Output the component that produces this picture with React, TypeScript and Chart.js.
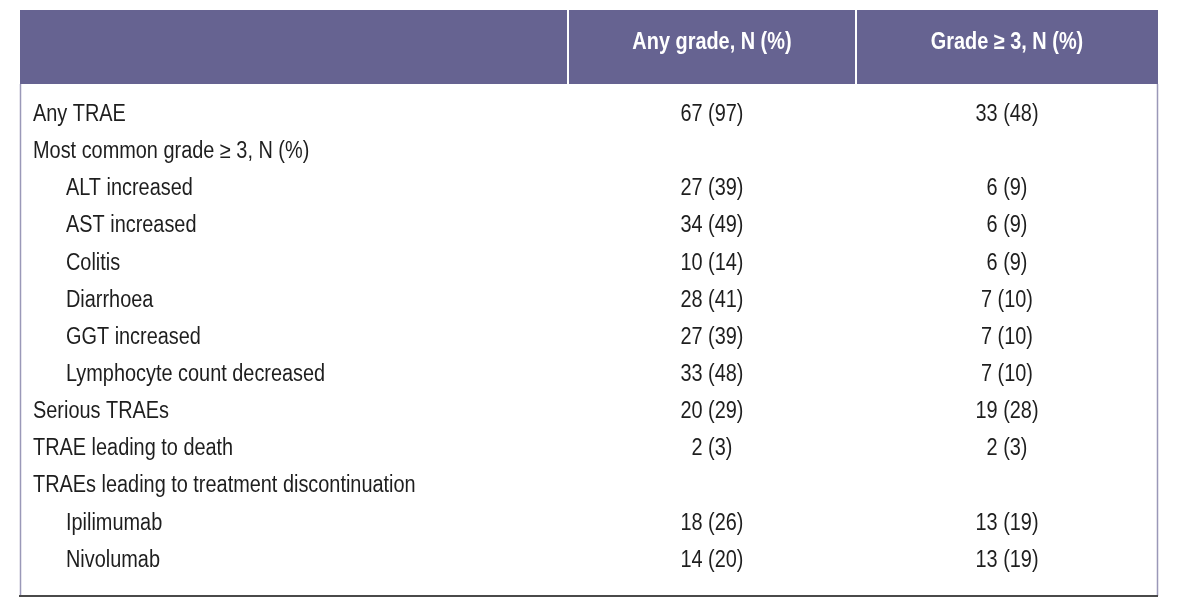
import React, { useEffect, useRef } from "react";
import { Chart, registerables } from "chart.js";

Chart.register(...registerables);

// ---- data ----
const ROW_LABELS = [
  "Any TRAE",
  "Most common grade ≥ 3, N (%)",
  "ALT increased",
  "AST increased",
  "Colitis",
  "Diarrhoea",
  "GGT increased",
  "Lymphocyte count decreased",
  "Serious TRAEs",
  "TRAE leading to death",
  "TRAEs leading to treatment discontinuation",
  "Ipilimumab",
  "Nivolumab",
];
const ROW_INDENT = [0, 0, 1, 1, 1, 1, 1, 1, 0, 0, 0, 1, 1];
const COLUMN_HEADERS = ["Any grade, N (%)", "Grade ≥ 3, N (%)"];
const ANY_GRADE_N = [67, null, 27, 34, 10, 28, 27, 33, 20, 2, null, 18, 14];
const ANY_GRADE_PCT = [97, null, 39, 49, 14, 41, 39, 48, 29, 3, null, 26, 20];
const GRADE3_N = [33, null, 6, 6, 6, 7, 7, 7, 19, 2, null, 13, 13];
const GRADE3_PCT = [48, null, 9, 9, 9, 10, 10, 10, 28, 3, null, 19, 19];

// ---- layout / style ----
const W = 1182;
const H = 612;
const COL_EDGES = [0, 0.4815, 0.7346, 1]; // fractions of table width
const HEADER_TOP = 10;
const HEADER_BOTTOM = 84;
const BOTTOM_LINE_Y = 596;
const HEADER_COLOR = "#666391";
const TEXT_COLOR = "#1e1e1e";
const FONT_FAMILY = '"Liberation Sans", Arial, sans-serif';
const FONT_SIZE = 23;
const CONDENSE = 0.865;

const fmt = (n: number | null, p: number | null) => (n === null ? "" : `${n} (${p})`);

function drawText(ctx: CanvasRenderingContext2D, txt: string, x: number, y: number) {
  ctx.save();
  ctx.translate(x, y);
  ctx.scale(CONDENSE, 1);
  ctx.fillText(txt, 0, 0);
  ctx.restore();
}

const tablePlugin = {
  id: "tablePlugin",
  beforeDraw(chart: any) {
    const { ctx, chartArea } = chart;
    const xs = chart.scales.x;
    const left = chartArea.left;
    const right = chartArea.right;
    ctx.save();
    ctx.fillStyle = "#ffffff";
    ctx.fillRect(0, 0, chart.width, chart.height);
    // header band
    ctx.fillStyle = HEADER_COLOR;
    ctx.fillRect(left, HEADER_TOP, right - left, HEADER_BOTTOM - HEADER_TOP);
    // header dividers
    ctx.strokeStyle = "#ffffff";
    ctx.lineWidth = 2;
    for (let i = 1; i < COL_EDGES.length - 1; i++) {
      const x = Math.round(xs.getPixelForValue(COL_EDGES[i]));
      ctx.beginPath();
      ctx.moveTo(x, HEADER_TOP);
      ctx.lineTo(x, HEADER_BOTTOM);
      ctx.stroke();
    }
    // header text
    ctx.fillStyle = "#ffffff";
    ctx.font = `bold ${FONT_SIZE}px ${FONT_FAMILY}`;
    ctx.textAlign = "center";
    ctx.textBaseline = "middle";
    COLUMN_HEADERS.forEach((h, i) => {
      const c = (COL_EDGES[i + 1] + COL_EDGES[i + 2]) / 2;
      drawText(ctx, h, xs.getPixelForValue(c), (HEADER_TOP + HEADER_BOTTOM) / 2 - 4);
    });
    // side borders
    ctx.strokeStyle = "#9a98b8";
    ctx.lineWidth = 1.5;
    ctx.beginPath();
    ctx.moveTo(left + 0.5, HEADER_BOTTOM);
    ctx.lineTo(left + 0.5, BOTTOM_LINE_Y);
    ctx.moveTo(right - 0.5, HEADER_BOTTOM);
    ctx.lineTo(right - 0.5, BOTTOM_LINE_Y);
    ctx.stroke();
    // bottom line
    ctx.strokeStyle = "#4a4a4a";
    ctx.lineWidth = 2;
    ctx.beginPath();
    ctx.moveTo(left - 1, BOTTOM_LINE_Y);
    ctx.lineTo(right, BOTTOM_LINE_Y);
    ctx.stroke();
    ctx.restore();
  },
  afterDatasetsDraw(chart: any) {
    const { ctx, chartArea } = chart;
    const ys = chart.scales.y;
    ctx.save();
    ctx.fillStyle = TEXT_COLOR;
    ctx.font = `${FONT_SIZE}px ${FONT_FAMILY}`;
    ctx.textBaseline = "middle";
    // row labels
    ctx.textAlign = "left";
    ROW_LABELS.forEach((lab, i) => {
      const x = chartArea.left + 13 + ROW_INDENT[i] * 33;
      drawText(ctx, lab, x, ys.getPixelForValue(i));
    });
    // cell values
    ctx.textAlign = "center";
    chart.data.datasets.forEach((ds: any, di: number) => {
      const meta = chart.getDatasetMeta(di);
      meta.data.forEach((el: any, i: number) => {
        const txt = ds.texts[i];
        if (txt) drawText(ctx, txt, el.x, el.y);
      });
    });
    ctx.restore();
  },
};

export default function App() {
  const ref = useRef<HTMLCanvasElement | null>(null);
  useEffect(() => {
    if (!ref.current) return;
    const c1 = (COL_EDGES[1] + COL_EDGES[2]) / 2;
    const c2 = (COL_EDGES[2] + COL_EDGES[3]) / 2;
    const chart = new Chart(ref.current, {
      type: "scatter",
      data: {
        datasets: [
          {
            label: COLUMN_HEADERS[0],
            data: ROW_LABELS.map((_, i) => ({ x: c1, y: i })),
            texts: ANY_GRADE_N.map((n, i) => fmt(n, ANY_GRADE_PCT[i])),
            pointRadius: 0,
          } as any,
          {
            label: COLUMN_HEADERS[1],
            data: ROW_LABELS.map((_, i) => ({ x: c2, y: i })),
            texts: GRADE3_N.map((n, i) => fmt(n, GRADE3_PCT[i])),
            pointRadius: 0,
          } as any,
        ],
      },
      options: {
        responsive: false,
        animation: false,
        layout: { padding: { left: 20, right: 24, top: 96, bottom: 33 } },
        plugins: { legend: { display: false }, tooltip: { enabled: false } },
        scales: {
          x: { type: "linear", min: 0, max: 1, display: false },
          y: {
            type: "category",
            labels: ROW_LABELS,
            offset: true,
            display: false,
          } as any,
        },
      },
      plugins: [tablePlugin],
    });
    return () => chart.destroy();
  }, []);
  return (
    <div style={{ position: "fixed", left: 0, top: 0, width: W, height: H }}>
      <canvas ref={ref} width={W} height={H} style={{ width: W, height: H }} />
    </div>
  );
}
